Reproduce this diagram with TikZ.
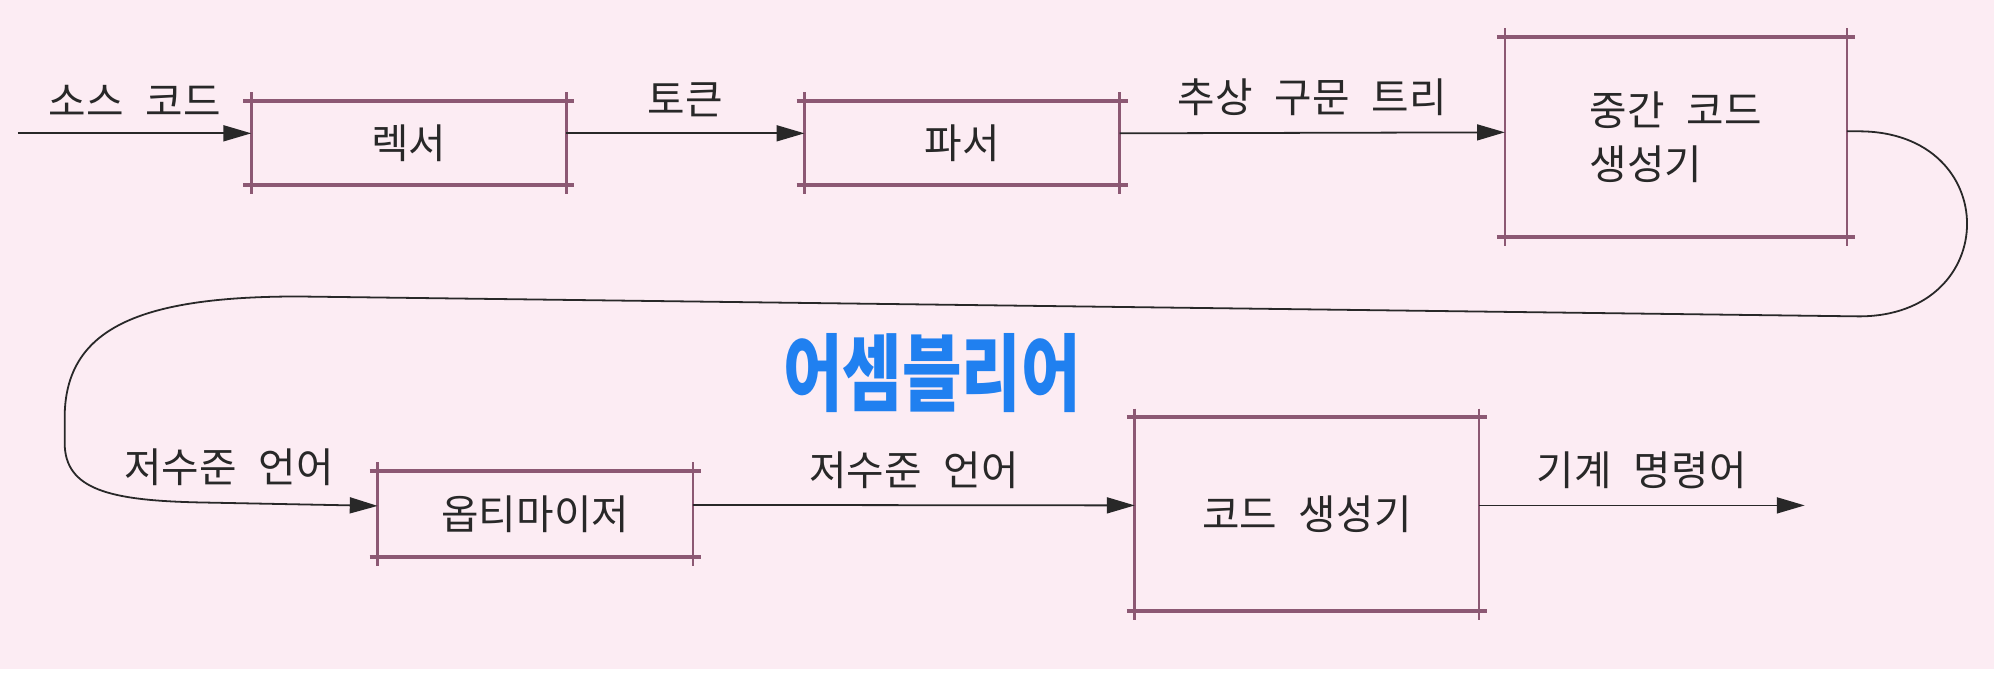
\documentclass[tikz,border=0pt]{standalone}
\usepackage{fontspec}
\newfontfamily\kor{Noto Sans CJK KR}[WordSpace=2.4]
\usetikzlibrary{positioning,arrows.meta}

\definecolor{bgpink}{RGB}{252,236,243}
\definecolor{boxline}{RGB}{140,88,115}
\definecolor{penblue}{RGB}{32,128,240}
\definecolor{ink}{RGB}{40,40,40}

\begin{document}
\begin{tikzpicture}[
  x=0.5pt, y=-0.5pt,
  font=\kor\fontsize{20.5}{27}\selectfont,
  stage/.style={inner sep=0pt, align=left, text=ink},
  hedge/.style={line width=2pt, color=boxline},
  vedge/.style={line width=1.3pt, color=boxline},
  flow/.style={-{Triangle[length=14pt,width=8pt]}, line width=0.9pt, color=ink},
  ann/.style={text=ink, inner sep=1pt},
]

% page and background
\fill[white] (0,0) rectangle (2004,697);
\fill[bgpink] (0,0) rectangle (2004,672);

% top row
\node[stage, minimum width=158pt, minimum height=42pt] (lex) at (411,144) {렉서};
\node[stage, minimum width=158pt, minimum height=42pt] (par) at (967,144) {파서};
\node[stage, minimum width=171.5pt, minimum height=100pt] (mid) at (1684.5,138) {중간 코드\\생성기};

% bottom row
\node[stage, minimum width=158pt, minimum height=42.5pt] (opt) at (538,516.5) {옵티마이저};
\node[stage, minimum width=172.5pt, minimum height=97pt] (gen) at (1313.5,517) {코드 생성기};

% box edges with crossed corners
\foreach \b in {lex,par,mid,opt,gen}{
  \draw[hedge] ([xshift=-4pt]\b.north west) -- ([xshift=4pt]\b.north east);
  \draw[hedge] ([xshift=-4pt]\b.south west) -- ([xshift=4pt]\b.south east);
  \draw[vedge] ([yshift=4.5pt]\b.north west) -- ([yshift=-4.5pt]\b.south west);
  \draw[vedge] ([yshift=4.5pt]\b.north east) -- ([yshift=-4.5pt]\b.south east);
}

\coordinate (in) at (18,134);
\coordinate (out) at (1814,508);

\draw[flow] (in) -- node[ann,above=7pt]{소스 코드} (in -| lex.west);
\draw[flow] ([yshift=5pt]lex.east) -- node[ann,above=7pt]{토큰} ([yshift=5pt]par.west);
\draw[flow] ([yshift=5pt]par.east) -- node[ann,above=7pt]{추상 구문 트리} ([yshift=2.5pt]mid.west);

% wrap-around to the second row
\draw[flow] ([yshift=3pt]mid.east) -- ++(12,0)
  .. controls +(145,0) and +(145,0) .. ++(0,186)
  -- (300,298)
  .. controls (140,298) and (65,330) .. (65,420)
  -- (65,445)
  .. controls (65,492) and (110,503) .. (200,505)
  -- ([yshift=4pt]opt.west);
\node[ann] (lowin) at (230,470) {저수준 언어};

\draw[flow] ([yshift=4.5pt]opt.east) -- node[ann,above=7pt]{저수준 언어} ([yshift=4.5pt]gen.west);
\draw[flow] (gen.east |- out) -- node[ann,above=7pt]{기계 명령어} (out);

% handwritten note
\node[text=penblue, font=\kor\bfseries\fontsize{32.5}{32.5}\selectfont] (asm) at (937,375)
  {\scalebox{1}[1.3]{어셈블리어}};

\end{tikzpicture}
\end{document}
